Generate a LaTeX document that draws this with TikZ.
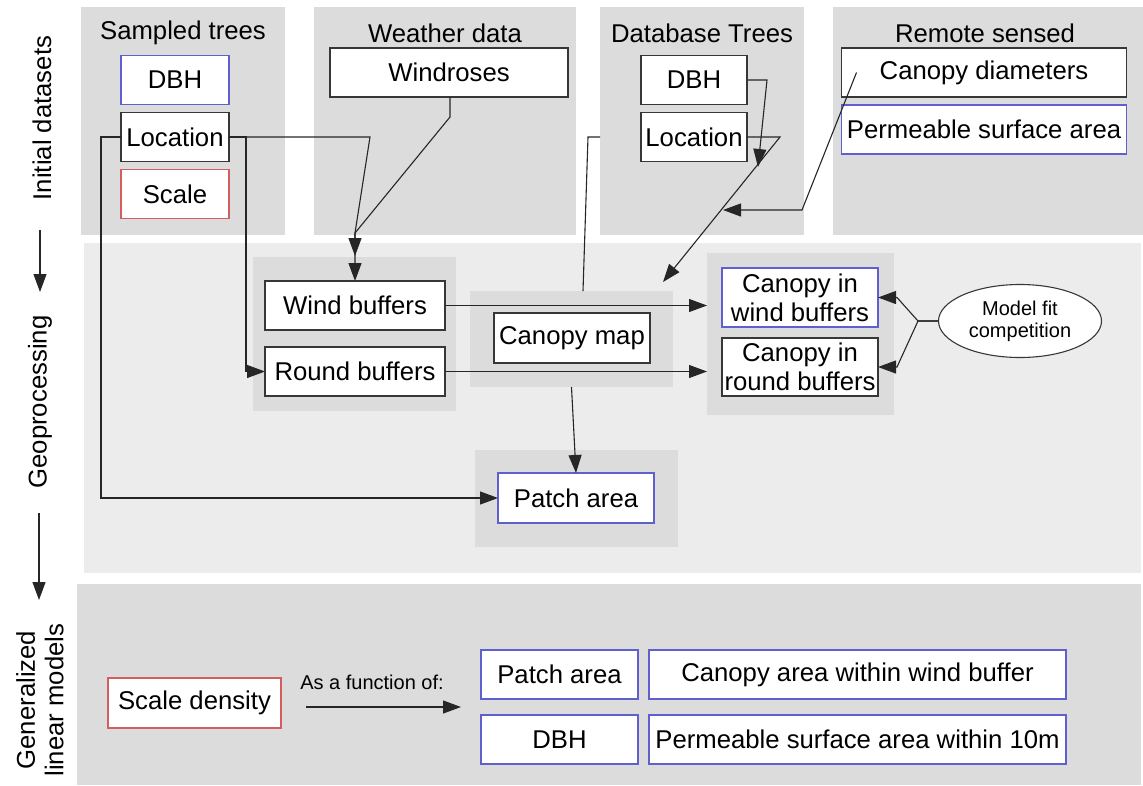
\documentclass[tikz,border=0pt]{standalone}
\usepackage{fontspec}
\setmainfont{Liberation Sans}
\usetikzlibrary{arrows.meta,shapes.geometric}
\definecolor{pgray}{RGB}{220,220,220}
\definecolor{lgray}{RGB}{236,236,236}
\definecolor{bblue}{RGB}{95,95,205}
\definecolor{rred}{RGB}{210,95,95}
\definecolor{kgray}{RGB}{55,55,55}
\newcommand\bigf{\fontsize{25.7}{29}\selectfont}
\newcommand\smallf{\fontsize{20}{22}\selectfont}
\tikzset{
  panel/.style={fill=pgray, draw=none, inner sep=0, outer sep=0},
  lpanel/.style={fill=lgray, draw=none, inner sep=0, outer sep=0},
  box/.style={draw=kgray, fill=white, line width=1.3pt, inner sep=0, outer sep=0, align=center, font=\bigf},
  bbox/.style={box, draw=bblue},
  rbox/.style={box, draw=rred},
  title/.style={font=\bigf, inner sep=0},
  side/.style={font=\bigf, rotate=90, align=center, inner sep=0},
  conn/.style={line width=1.1pt, draw=black!85},
  arr/.style={conn, -{Triangle[length=18pt,width=13pt]}},
}
\begin{document}
\begin{tikzpicture}[x=1pt,y=-1pt]
\useasboundingbox (0,0) rectangle (1143,785);
% ---------- panels
\node[panel, minimum width=204, minimum height=228] (top1) at (183,121) {};
\node[panel, minimum width=262, minimum height=228] (top2) at (445,121) {};
\node[panel, minimum width=204, minimum height=228] (top3) at (702,121) {};
\node[panel, minimum width=310, minimum height=228] (top4) at (988,121) {};
\node[lpanel, minimum width=1057, minimum height=330] (mid) at (612.5,408) {};
\node[panel, minimum width=203, minimum height=154] (bufpanel) at (354.5,334) {};
\node[panel, minimum width=203, minimum height=96] (cmpanel) at (571.5,339) {};
\node[panel, minimum width=187, minimum height=162] (cipanel) at (800.5,334) {};
\node[panel, minimum width=203, minimum height=97] (papanel) at (576.5,498.5) {};
\node[panel, minimum width=1064, minimum height=201] (glm) at (609,684.5) {};
% ---------- side labels
\node[side] (labInit) at (42,118) {Initial datasets};
\node[side] (labGeo) at (40,402) {Geoprocessing};
\node[side, font=\fontsize{25.7}{28.5}\selectfont] (labGlm) at (40,700) {Generalized\\linear models};
\coordinate (sa1) at (40,230);
\coordinate (sa2) at (40,292);
\coordinate (sb1) at (39,513);
\coordinate (sb2) at (39,600);
\draw[arr] (sa1) -- (sa2);
\draw[arr] (sb1) -- (sb2);
% ---------- titles
\node[title] (t1) at (183,33) {Sampled trees};
\node[title] (t2) at (445,33) {Weather data};
\node[title] (t3) at (702,33) {Database Trees};
\node[title] (t4) at (985,33) {Remote sensed};
% ---------- top boxes
\node[bbox, minimum width=108, minimum height=49] (sDBH) at (175,80) {DBH};
\node[box,  minimum width=108, minimum height=49] (sLoc) at (175,137) {Location};
\node[rbox, minimum width=108, minimum height=49] (sScale) at (175,194) {Scale};
\node[box,  minimum width=238, minimum height=49] (wind) at (449,72.5) {Windroses};
\node[box,  minimum width=106, minimum height=49] (dDBH) at (694,80) {DBH};
\node[box,  minimum width=106, minimum height=49] (dLoc) at (694,137) {Location};
\node[box,  minimum width=285, minimum height=49] (canD) at (984,72.5) {Canopy diameters};
\node[bbox, minimum width=285, minimum height=49] (perm) at (984,129.5) {Permeable surface area};
% ---------- geoprocessing boxes
\node[box,  minimum width=180, minimum height=49] (windbuf) at (355,305.5) {Wind buffers};
\node[box,  minimum width=180, minimum height=49] (roundbuf) at (355,371.5) {Round buffers};
\node[box,  minimum width=156, minimum height=50] (canmap) at (572,338) {Canopy map};
\node[bbox, minimum width=156, minimum height=59] (ciw) at (800,297.5) {Canopy in\\wind buffers};
\node[box,  minimum width=156, minimum height=58] (cir) at (800,367) {Canopy in\\round buffers};
\node[ellipse, draw=kgray, fill=white, line width=1.1pt, minimum width=163, minimum height=73, inner sep=0, align=center, font=\smallf] (mfc) at (1020,321) {Model fit\\competition};
\node[bbox, minimum width=156, minimum height=50] (patch) at (576,498) {Patch area};
% ---------- GLM boxes
\node[rbox, minimum width=173, minimum height=50] (sd) at (194.5,703) {Scale density};
\node[font=\smallf, inner sep=0] (afn) at (372,682) {As a function of:};
\node[bbox, minimum width=157, minimum height=49] (gpatch) at (559.5,674.5) {Patch area};
\node[bbox, minimum width=157, minimum height=49] (gdbh) at (559.5,739.5) {DBH};
\node[bbox, minimum width=417, minimum height=49] (gcan) at (857.5,674.5) {Canopy area within wind buffer};
\node[bbox, minimum width=417, minimum height=49] (gperm) at (857.5,739.5) {Permeable surface area within 10m};
% ---------- connectors
\coordinate (j1) at (370,137);
\coordinate (j2) at (355,233);
\coordinate (j3) at (355,256);
\coordinate (j4) at (450,117);
\draw[arr] (sLoc.east) -- (j1) -- (j2) -- (j3);
\draw[arr] (wind.south -| j4) -- (j4) -- (j2) -- (windbuf.north);
\draw[arr] (sLoc.east) -- ++(17,0) |- (roundbuf.west);
\draw[arr] (sLoc.west) -- ++(-20,0) |- (patch.west);
\coordinate (k1) at (767,80);
\coordinate (k2) at (758,167);
\draw[arr] (dDBH.east) -- (k1) -- (k2);
\coordinate (k3) at (780,137);
\coordinate (k4) at (663,282);
\draw[arr] (dLoc.east) -- (k3) -- (k4);
\coordinate (k5) at (802,210);
\coordinate (k6) at (723,210);
\draw[arr] ([xshift=15pt]canD.west) -- (k5) -- (k6);
\draw[conn] (top3.west |- dLoc) -- ++(-12,0) -- ([xshift=11.5pt]cmpanel.north);
\draw[arr] (windbuf.east) -- (windbuf.east -| cipanel.west);
\draw[arr] (roundbuf.east) -- (roundbuf.east -| cipanel.west);
\draw[arr] (cmpanel.south) -- (patch.north);
\coordinate (m1) at (918,321);
\draw[arr] (mfc.west) -- (m1) -- (897,297.5) -- (ciw.east);
\draw[arr] (mfc.west) -- (m1) -- (897,367) -- (cir.east);
\draw[arr, shorten <=25pt, shorten >=20pt] ([yshift=-4pt]sd.east) -- ([yshift=-4pt]sd.east -| gpatch.west);
\end{tikzpicture}
\end{document}
